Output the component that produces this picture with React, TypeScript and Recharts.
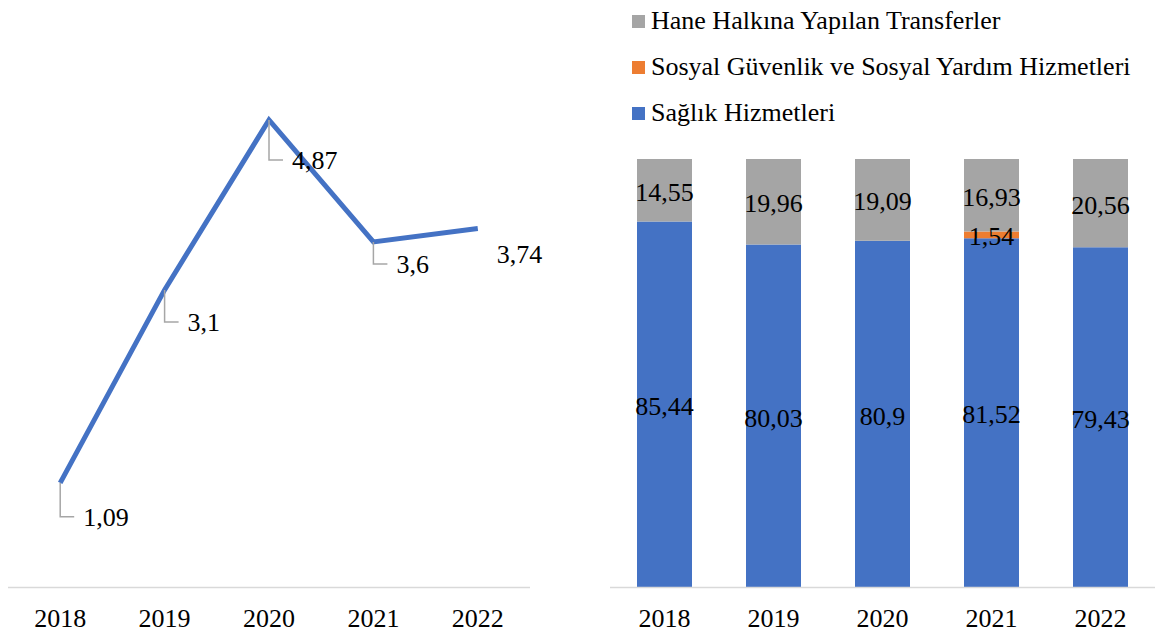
import React from 'react';
import {
  LineChart,
  Line,
  BarChart,
  Bar,
  XAxis,
  YAxis,
  LabelList,
} from 'recharts';

const years = ['2018', '2019', '2020', '2021', '2022'];
const growth = [1.09, 3.1, 4.87, 3.6, 3.74];
const saglik = [85.44, 80.03, 80.9, 81.52, 79.43];
const sosyal = [0, 0, 0, 1.54, 0];
const hane = [14.55, 19.96, 19.09, 16.93, 20.56];

// leader/label offsets for the line labels (px)
const labelDy = [34, 32, 40, 22, 25];
const labelHasLeader = [true, true, true, true, false];

const FONT = 'serif';
const BLUE = '#4472C4';
const ORANGE = '#ED7D31';
const GRAY = '#A5A5A5';

const lineData = years.map((y, i) => ({ year: y, value: growth[i] }));
const barData = years.map((y, i) => ({
  year: y,
  saglik: saglik[i],
  sosyal: sosyal[i] || null,
  hane: hane[i],
}));

const fmt = (v: number) => String(v).replace('.', ',');

const LineLabel = (props: any) => {
  const { x, y, value, index } = props;
  const dy = labelDy[index];
  const leader = labelHasLeader[index];
  return (
    <g>
      {leader && (
        <polyline
          points={`${x},${y} ${x},${y + dy} ${x + 14},${y + dy}`}
          fill="none"
          stroke="#A6A6A6"
          strokeWidth={1.5}
        />
      )}
      <text
        x={leader ? x + 23 : x + 19}
        y={y + dy}
        dy="0.35em"
        fontFamily={FONT}
        fontSize={26}
        fill="#000"
      >
        {fmt(value)}
      </text>
    </g>
  );
};

const BarValueLabel = (props: any) => {
  const { x, y, width, height, value } = props;
  if (value == null || value === 0) return null;
  return (
    <text
      x={x + width / 2}
      y={y + height / 2 + 2}
      textAnchor="middle"
      dominantBaseline="central"
      fontFamily={FONT}
      fontSize={26}
      fill="#000"
    >
      {fmt(value)}
    </text>
  );
};

const legendItems = [
  { name: 'Hane Halkına Yapılan Transferler', color: GRAY },
  { name: 'Sosyal Güvenlik ve Sosyal Yardım Hizmetleri', color: ORANGE },
  { name: 'Sağlık Hizmetleri', color: BLUE },
];

const tickStyle = { fill: '#000', fontSize: 26, fontFamily: FONT };

export default function App() {
  return (
    <div
      style={{
        position: 'absolute',
        left: 0,
        top: 0,
        width: 1155,
        height: 635,
        background: '#fff',
        fontFamily: FONT,
      }}
    >
      <div style={{ position: 'absolute', left: 0, top: 0 }}>
        <LineChart
          width={600}
          height={635}
          data={lineData}
          margin={{ top: 11.5, right: 70, bottom: 0, left: 8 }}
        >
          <XAxis
            dataKey="year"
            height={47.5}
            padding={{ left: 52.2, right: 52.2 }}
            axisLine={{ stroke: '#D9D9D9', strokeWidth: 1.5 }}
            tickLine={false}
            tickSize={0}
            tickMargin={21}
            tick={tickStyle}
            interval={0}
          />
          <YAxis hide domain={[0, 6]} />
          <Line
            dataKey="value"
            stroke={BLUE}
            strokeWidth={5}
            dot={false}
            isAnimationActive={false}
          >
            <LabelList dataKey="value" content={LineLabel} />
          </Line>
        </LineChart>
      </div>
      <div
        style={{
          position: 'absolute',
          left: 632,
          top: -2,
          fontSize: 26,
          color: '#000',
          whiteSpace: 'nowrap',
        }}
      >
        {legendItems.map((it) => (
          <div key={it.name} style={{ display: 'flex', alignItems: 'center', height: 46 }}>
            <span
              style={{
                display: 'inline-block',
                width: 13,
                height: 13,
                background: it.color,
                marginRight: 6,
              }}
            />
            <span>{it.name}</span>
          </div>
        ))}
      </div>
      <div style={{ position: 'absolute', left: 600, top: 0 }}>
        <BarChart
          width={555}
          height={635}
          data={barData}
          margin={{ top: 159, right: 0, bottom: 0, left: 10 }}
        >
          <XAxis
            dataKey="year"
            height={47.5}
            axisLine={{ stroke: '#D9D9D9', strokeWidth: 1.5 }}
            tickLine={false}
            tickSize={0}
            tickMargin={21}
            tick={tickStyle}
            interval={0}
          />
          <YAxis hide domain={[0, 100]} />
          <Bar dataKey="saglik" stackId="a" fill={BLUE} barSize={55} isAnimationActive={false}>
            <LabelList dataKey="saglik" content={BarValueLabel} />
          </Bar>
          <Bar dataKey="sosyal" stackId="a" fill={ORANGE} barSize={55} isAnimationActive={false}>
            <LabelList dataKey="sosyal" content={BarValueLabel} />
          </Bar>
          <Bar dataKey="hane" stackId="a" fill={GRAY} barSize={55} isAnimationActive={false}>
            <LabelList dataKey="hane" content={BarValueLabel} />
          </Bar>
        </BarChart>
      </div>
    </div>
  );
}
